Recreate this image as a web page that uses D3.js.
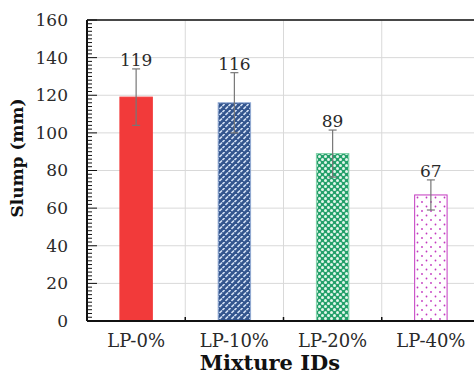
<!DOCTYPE html>
<html>
<head>
<meta charset="utf-8">
<script src="https://cdn.jsdelivr.net/npm/d3@7"></script>
<style>
  body { margin: 0; background: #fff; }
  svg { display: block; }
</style>
</head>
<body>
<div class="chart"></div>
<script>
var categories = ["LP-0%", "LP-10%", "LP-20%", "LP-40%"];
var slump = [119, 116, 89, 67];
var errors = [15, 16, 12.5, 8];
var yTicks = [0, 20, 40, 60, 80, 100, 120, 140, 160];

var FONT = "DejaVu Serif, Liberation Serif, serif";
var W = 474, H = 376;
var margin = { top: 20, right: -6, bottom: 55, left: 87 },
    width = W - margin.left - margin.right,
    height = H - margin.top - margin.bottom;

var svg = d3.select(".chart").append("svg")
    .attr("width", W)
    .attr("height", H)
    .attr("font-family", FONT);

// fill patterns for the bars
var defs = svg.append("defs");

var pBlue = defs.append("pattern").attr("id", "pBlue")
    .attr("patternUnits", "userSpaceOnUse").attr("width", 6).attr("height", 6);
pBlue.append("rect").attr("width", 6).attr("height", 6).attr("fill", "#33558e");
pBlue.append("path").attr("d", "M0.5,5 L3,2.5 M3.5,2 L5.5,0")
    .attr("stroke", "#d3e0f4").attr("stroke-width", 1.6);

var pGreen = defs.append("pattern").attr("id", "pGreen")
    .attr("patternUnits", "userSpaceOnUse").attr("width", 6).attr("height", 6);
pGreen.append("rect").attr("width", 6).attr("height", 6).attr("fill", "#23a06a");
pGreen.append("circle").attr("cx", 1.5).attr("cy", 1.5).attr("r", 1.5).attr("fill", "#e4f6ec");
pGreen.append("circle").attr("cx", 4.5).attr("cy", 4.5).attr("r", 1.5).attr("fill", "#e4f6ec");

var pPink = defs.append("pattern").attr("id", "pPink")
    .attr("patternUnits", "userSpaceOnUse").attr("width", 9).attr("height", 9);
pPink.append("rect").attr("width", 9).attr("height", 9).attr("fill", "#fff");
pPink.append("circle").attr("cx", 2).attr("cy", 2).attr("r", 0.9).attr("fill", "#c338c0");
pPink.append("circle").attr("cx", 6.5).attr("cy", 6.5).attr("r", 0.9).attr("fill", "#c338c0");

var fills = ["#f23a3a", "url(#pBlue)", "url(#pGreen)", "url(#pPink)"];
var strokes = ["#f23a3a", "#8fa8d2", "#7fd0a8", "#c338c0"];

var g = svg.append("g")
    .attr("transform", "translate(" + margin.left + "," + margin.top + ")");

var x = d3.scaleBand().domain(categories).range([0, width]).padding(0);
var y = d3.scaleLinear().domain([0, 160]).range([height, 0]);

// gridlines
g.append("g").selectAll("line").data(yTicks.slice(1)).enter().append("line")
    .attr("x1", 0).attr("x2", width)
    .attr("y1", function (d) { return y(d); }).attr("y2", function (d) { return y(d); })
    .attr("stroke", "#d9d9d9").attr("stroke-width", 1);

g.append("g").selectAll("line").data(categories.slice(1)).enter().append("line")
    .attr("x1", function (d) { return x(d); }).attr("x2", function (d) { return x(d); })
    .attr("y1", 0).attr("y2", height)
    .attr("stroke", "#d9d9d9").attr("stroke-width", 1);

// bars
var bw = x.bandwidth() * 0.33;
g.selectAll(".bar").data(slump).enter().append("rect")
    .attr("class", "bar")
    .attr("x", function (d, i) { return x(categories[i]) + x.bandwidth() / 2 - bw / 2; })
    .attr("y", function (d) { return y(d); })
    .attr("width", bw)
    .attr("height", function (d) { return height - y(d); })
    .attr("fill", function (d, i) { return fills[i]; })
    .attr("stroke", function (d, i) { return strokes[i]; })
    .attr("stroke-width", 1);

// error bars
var eb = g.selectAll(".err").data(slump).enter().append("g").attr("class", "err")
    .attr("stroke", "#777").attr("stroke-width", 1.2);
eb.append("line")
    .attr("x1", function (d, i) { return x(categories[i]) + x.bandwidth() / 2; })
    .attr("x2", function (d, i) { return x(categories[i]) + x.bandwidth() / 2; })
    .attr("y1", function (d, i) { return y(d + errors[i]); })
    .attr("y2", function (d, i) { return y(d - errors[i]); });
[1, -1].forEach(function (s) {
  eb.append("line")
    .attr("x1", function (d, i) { return x(categories[i]) + x.bandwidth() / 2 - 4; })
    .attr("x2", function (d, i) { return x(categories[i]) + x.bandwidth() / 2 + 4; })
    .attr("y1", function (d, i) { return y(d + s * errors[i]); })
    .attr("y2", function (d, i) { return y(d + s * errors[i]); });
});

// value labels
g.selectAll(".val").data(slump).enter().append("text")
    .attr("class", "val")
    .attr("x", function (d, i) { return x(categories[i]) + x.bandwidth() / 2; })
    .attr("y", function (d, i) { return y(d + errors[i]) - 3; })
    .attr("text-anchor", "middle")
    .attr("font-size", 17).attr("fill", "#2a2a2a")
    .text(function (d) { return d; });

// y axis with minor ticks
var yMinor = d3.range(0, 161, 2);
g.append("g").selectAll("line").data(yMinor).enter().append("line")
    .attr("x1", 0)
    .attr("x2", function (d) { return d % 20 === 0 ? 10 : 5; })
    .attr("y1", function (d) { return y(d); }).attr("y2", function (d) { return y(d); })
    .attr("stroke", "#111").attr("stroke-width", 1);

var yAxis = d3.axisLeft(y).tickValues(yTicks).tickSize(0).tickPadding(19);
g.append("g").call(yAxis)
    .attr("font-family", FONT).attr("font-size", 17)
    .call(function (a) { a.select(".domain").remove(); })
    .selectAll("text").attr("fill", "#2a2a2a");

var xAxis = d3.axisBottom(x).tickSize(0).tickPadding(13);
g.append("g").attr("transform", "translate(0," + height + ")").call(xAxis)
    .attr("font-family", FONT).attr("font-size", 18)
    .call(function (a) { a.select(".domain").remove(); })
    .selectAll("text").attr("fill", "#2a2a2a");

// x ticks at band boundaries
g.append("g").selectAll("line").data(categories.slice(1)).enter().append("line")
    .attr("x1", function (d) { return x(d); }).attr("x2", function (d) { return x(d); })
    .attr("y1", height).attr("y2", height - 4)
    .attr("stroke", "#111").attr("stroke-width", 1.5);

// frame
g.append("line").attr("x1", 0).attr("x2", width).attr("y1", 0).attr("y2", 0)
    .attr("stroke", "#111").attr("stroke-width", 1.5);
g.append("line").attr("x1", 0).attr("x2", width).attr("y1", height).attr("y2", height)
    .attr("stroke", "#111").attr("stroke-width", 2);
g.append("line").attr("x1", 0).attr("x2", 0).attr("y1", 0).attr("y2", height)
    .attr("stroke", "#111").attr("stroke-width", 2);

// axis titles
svg.append("text")
    .attr("transform", "translate(23,158) rotate(-90)")
    .attr("text-anchor", "middle")
    .attr("font-size", 17).attr("font-weight", "bold").attr("fill", "#111")
    .text("Slump (mm)");

svg.append("text")
    .attr("x", 270).attr("y", 370)
    .attr("text-anchor", "middle")
    .attr("font-size", 21).attr("font-weight", "bold").attr("fill", "#111")
    .text("Mixture IDs");
</script>
</body>
</html>
